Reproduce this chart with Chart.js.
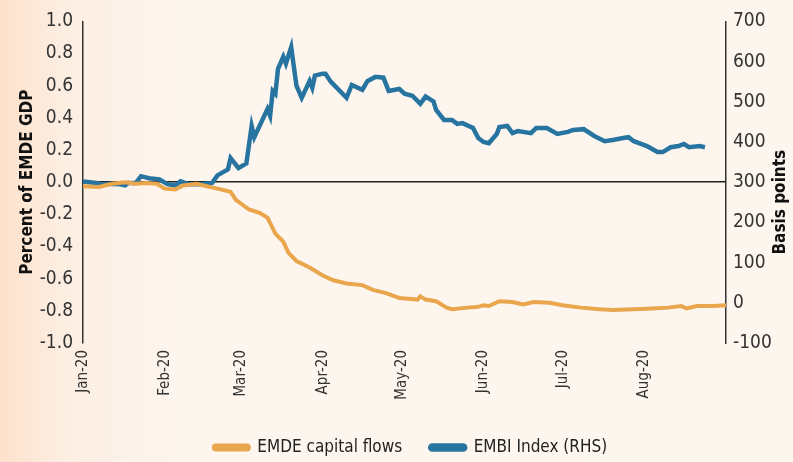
<!DOCTYPE html>
<html>
<head>
<meta charset="utf-8">
<script src="https://cdn.jsdelivr.net/npm/chart.js@4"></script>
<style>
  html, body { margin: 0; padding: 0; }
  body {
    width: 793px; height: 462px; overflow: hidden;
    background: linear-gradient(to right, #fde1cb 0%, #fdeee2 8%, #fdf5ee 22%, #fdf6ef 100%);
  }
  #wrap { position: relative; width: 793px; height: 462px; }
</style>
</head>
<body>
<div id="wrap"><canvas id="c"></canvas></div>
<script>
const BLUE = '#2874a0';
const ORANGE = '#e9a64c';
const FONT = "'DejaVu Sans', sans-serif";

// x positions are days since 1 Jan 2020
const monthStarts = [0, 31, 60, 91, 121, 152, 182, 213];
const monthLabels = ['Jan-20', 'Feb-20', 'Mar-20', 'Apr-20', 'May-20', 'Jun-20', 'Jul-20', 'Aug-20'];

// EMDE capital flows, percent of EMDE GDP (LHS)
const flowDays = [0, 6, 11, 16, 20, 24, 28, 31, 35, 38, 43, 47, 51, 56, 58, 63, 67, 70, 73, 76, 78, 81, 86, 91, 95, 100,
  106, 110, 115, 120, 127, 128, 130, 134, 138, 140, 146, 150, 152, 154, 158, 163, 167, 171, 177, 182, 189, 196,
  201, 209, 216, 222, 227, 229, 233, 239, 244];
const flowValues = [-0.025, -0.03, -0.01, 0.0, -0.01, -0.005, -0.01, -0.04, -0.045, -0.02, -0.01, -0.025, -0.04, -0.06,
  -0.11, -0.17, -0.19, -0.22, -0.32, -0.37, -0.44, -0.49, -0.53, -0.58, -0.61, -0.63,
  -0.64, -0.67, -0.69, -0.72, -0.73, -0.71, -0.73, -0.74, -0.78, -0.79, -0.78, -0.775, -0.765, -0.77, -0.74, -0.745,
  -0.76, -0.745, -0.75, -0.765, -0.78, -0.79, -0.795, -0.79, -0.785, -0.78, -0.77, -0.785, -0.77, -0.77, -0.765];

// EMBI Index, basis points (RHS)
const embiDays = [0, 5, 7, 13, 16, 17, 20, 22, 25, 29, 32, 35, 37, 40, 45, 49, 51, 55, 56, 59, 62, 64, 65, 70, 71, 72, 73,
  74, 76, 77, 79, 81, 83, 86, 87, 88, 91, 92, 94, 100, 102, 106, 108, 111, 114, 116, 120, 122, 125, 128, 130, 133,
  134, 137, 140, 142, 144, 148, 150, 152, 154, 157, 158, 161, 163, 165, 170, 172, 176, 180, 184, 186, 190, 194,
  198, 201, 205, 207, 209, 211, 214, 218, 220, 223, 226, 228, 230, 234, 236];
const embiValues = [302, 298, 295, 296, 292, 298, 298, 315, 310, 307, 295, 292, 302, 295, 295, 298, 317, 332, 360, 335,
  347, 440, 412, 482, 465, 527, 520, 582, 612, 595, 636, 540, 510, 552, 535, 565, 570, 570, 550, 510, 542, 530, 552,
  562, 560, 527, 532, 520, 515, 495, 513, 501, 480, 455, 455, 445, 447, 435, 410, 400, 397, 420, 437, 440, 422, 427,
  422, 435, 435, 420, 425, 430, 432, 415, 402, 405, 410, 412, 402, 397, 390, 375, 375, 387, 390, 395, 387, 390, 387];

const toPoints = (xs, ys) => xs.map((x, i) => ({ x: x, y: ys[i] }));

// right-hand title reads bottom-to-top like the left one
const rightTitle = {
  id: 'rightTitle',
  afterDraw(chart) {
    const ctx = chart.ctx;
    const a = chart.scales.y1;
    ctx.save();
    ctx.translate(781, (a.top + a.bottom) / 2 + 20);
    ctx.rotate(-Math.PI / 2);
    ctx.font = "bold condensed 17px " + FONT;
    ctx.fillStyle = '#111';
    ctx.textAlign = 'center';
    ctx.textBaseline = 'middle';
    ctx.fillText('Basis points', 0, 0);
    ctx.restore();
  }
};

new Chart('c', {
  type: 'line',
  data: {
    datasets: [
      {
        label: 'EMDE capital flows',
        data: toPoints(flowDays, flowValues),
        yAxisID: 'y',
        borderColor: ORANGE,
        backgroundColor: ORANGE,
        borderWidth: 4,
        pointRadius: 0,
        tension: 0
      },
      {
        label: 'EMBI Index (RHS)',
        data: toPoints(embiDays, embiValues),
        yAxisID: 'y1',
        borderColor: BLUE,
        backgroundColor: BLUE,
        borderWidth: 4.5,
        pointRadius: 0,
        tension: 0
      }
    ]
  },
  plugins: [rightTitle],
  options: {
    responsive: true,
    maintainAspectRatio: false,
    animation: false,
    layout: { padding: { top: 14, left: 30, right: 2, bottom: -4 } },
    plugins: {
      tooltip: { enabled: false },
      legend: {
        display: true,
        position: 'bottom',
        labels: {
          font: { family: FONT, size: 17, weight: 'condensed' },
          color: '#222',
          boxWidth: 35,
          boxHeight: 4,
          useBorderRadius: true,
          borderRadius: 2,
          padding: 28
        }
      }
    },
    scales: {
      x: {
        type: 'linear',
        min: 0,
        max: 244,
        afterBuildTicks: s => { s.ticks = monthStarts.map(v => ({ value: v })); },
        afterFit: s => { s.height = 68; },
        grid: { display: false, drawTicks: false },
        border: { display: false },
        ticks: {
          minRotation: 90,
          maxRotation: 90,
          padding: 7,
          color: '#333',
          font: { family: FONT, size: 15, weight: 'condensed' },
          callback: v => monthLabels[monthStarts.indexOf(v)]
        }
      },
      y: {
        position: 'left',
        min: -1,
        max: 1,
        afterFit: s => { s.width = 53; },
        ticks: {
          stepSize: 0.2,
          padding: 10,
          color: '#333',
          font: { family: FONT, size: 19, weight: 'condensed' },
          callback: v => v.toFixed(1)
        },
        grid: {
          drawTicks: false,
          color: c => (Math.abs(c.tick.value) < 1e-9 ? '#222' : 'rgba(0,0,0,0)'),
          lineWidth: 1.5
        },
        border: { display: true, color: '#333', width: 1.5 },
        title: {
          display: true,
          text: 'Percent of EMDE GDP',
          color: '#111',
          font: { family: FONT, size: 17, weight: 'bold condensed' },
          padding: { top: -13, bottom: 0 }
        }
      },
      y1: {
        position: 'right',
        min: -100,
        max: 700,
        afterFit: s => { s.width = 65; },
        ticks: {
          stepSize: 100,
          padding: 7,
          color: '#333',
          font: { family: FONT, size: 19, weight: 'condensed' }
        },
        grid: { display: false, drawTicks: false },
        border: { display: true, color: '#333', width: 1.5 },
        title: { display: false }
      }
    }
  }
});
</script>
</body>
</html>
